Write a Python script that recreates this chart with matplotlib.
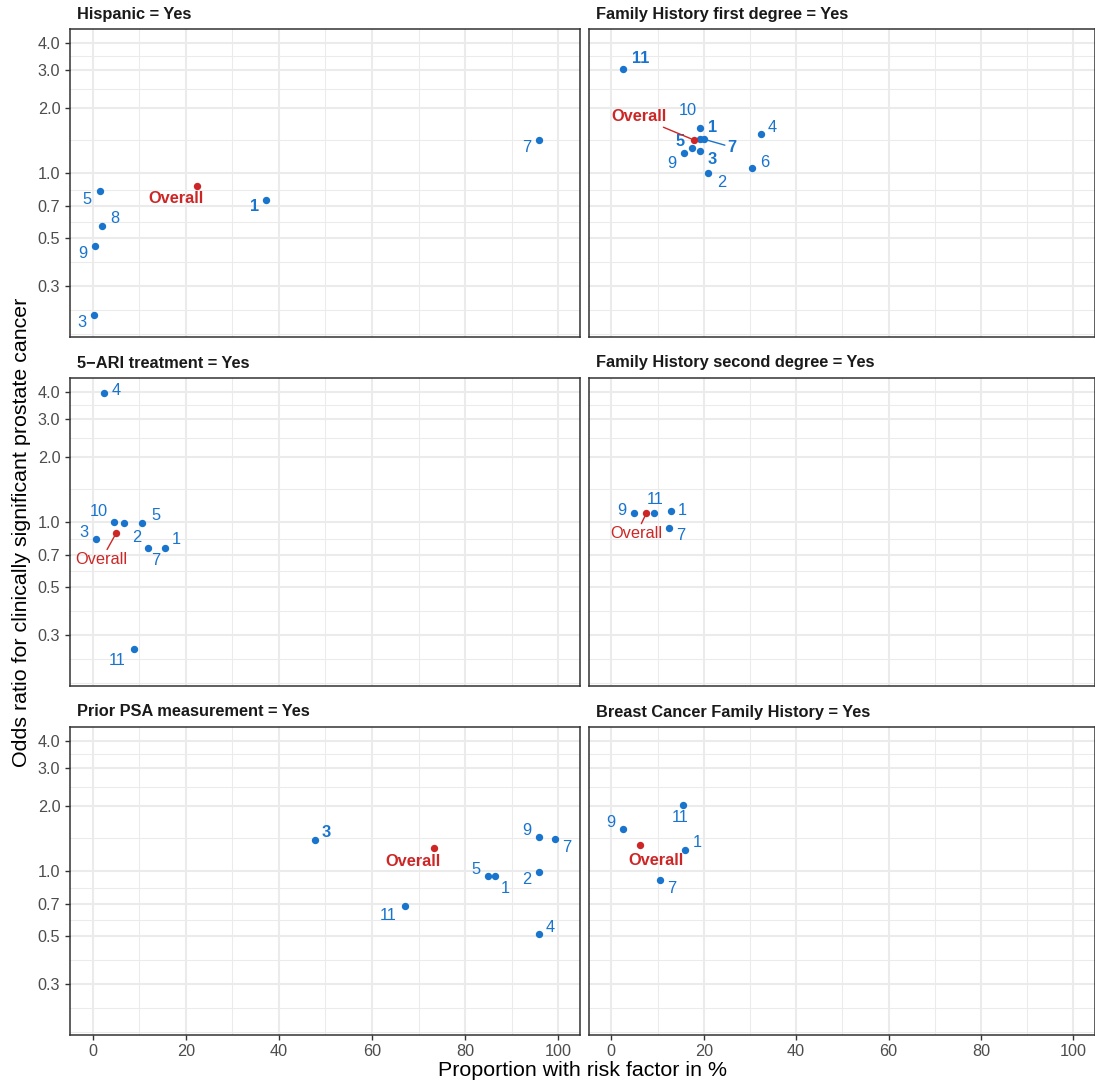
import matplotlib
matplotlib.use('Agg')
import matplotlib.pyplot as plt
from matplotlib.ticker import FixedLocator, FixedFormatter, NullFormatter
import numpy as np

plt.rcParams['font.family'] = ['Liberation Sans', 'DejaVu Sans']

BLUE = '#1874CD'
RED = '#CD2626'

# Panel titles
titles = ['Hispanic = Yes', 'Family History first degree = Yes',
          '5\u2212ARI treatment = Yes', 'Family History second degree = Yes',
          'Prior PSA measurement = Yes', 'Breast Cancer Family History = Yes']

# Cohort estimates per panel: id, proportion (%), odds ratio, bold label
hisp_ids = ['5', '1', '8', '9', '3', '7']
hisp_x = [1.5, 37.3, 2.1, 0.6, 0.3, 95.9]
hisp_or = [0.82, 0.75, 0.57, 0.46, 0.22, 1.42]
hisp_bold = [0, 1, 0, 0, 0, 0]

fh1_ids = ['11', '10', '1', '7', '5', '9', '3', '2', '6', '4']
fh1_x = [2.6, 19.2, 19.2, 20.1, 17.5, 15.8, 19.2, 21.0, 30.5, 32.3]
fh1_or = [3.03, 1.44, 1.62, 1.43, 1.30, 1.24, 1.26, 1.00, 1.05, 1.51]
fh1_bold = [1, 0, 1, 1, 1, 0, 1, 0, 0, 0]

ari_ids = ['4', '10', '2', '5', '3', '7', '1', '11']
ari_x = [2.4, 4.6, 6.8, 10.6, 0.65, 11.8, 15.5, 8.9]
ari_or = [3.94, 1.00, 0.986, 0.993, 0.83, 0.755, 0.758, 0.259]
ari_bold = [0, 0, 0, 0, 0, 0, 0, 0]

fh2_ids = ['9', '11', '1', '7']
fh2_x = [4.9, 9.2, 12.9, 12.5]
fh2_or = [1.10, 1.10, 1.12, 0.935]
fh2_bold = [0, 0, 0, 0]

psa_ids = ['3', '11', '9', '7', '2', '5', '1', '4']
psa_x = [47.7, 67.2, 95.8, 99.3, 95.8, 85.0, 86.4, 95.8]
psa_or = [1.39, 0.69, 1.43, 1.40, 0.99, 0.945, 0.945, 0.51]
psa_bold = [1, 0, 0, 0, 0, 0, 0, 0]

bc_ids = ['11', '9', '1', '7']
bc_x = [15.4, 2.6, 15.9, 10.6]
bc_or = [2.01, 1.565, 1.255, 0.905]
bc_bold = [0, 0, 0, 0]

# Overall (pooled) estimate per panel
overall_x = [22.4, 17.85, 5.1, 7.6, 73.3, 6.3]
overall_or = [0.87, 1.42, 0.89, 1.10, 1.27, 1.315]
overall_bold = [1, 1, 0, 0, 1, 1]

# label placement (pixel offsets from the point, repel-like), segment flag
hisp_nudge = [(-13, -8), (-12, -7), (12, 7), (-13, -8), (-12, -8), (-12, -8)]
fh1_nudge = [(17, 10), (-12, 28), (12, 0), (28, -8), (-12, 7), (-13, -11),
             (12, -8), (13, -10), (12, 6), (12, 7)]
ari_nudge = [(12, 3), (-15, 10), (12, -14), (14, 7), (-12, 7), (8, -12), (11, 8), (-17, -12)]
fh2_nudge = [(-12, 2), (1, 13), (11, 1), (12, -7)]
psa_nudge = [(12, 7), (-17, -10), (-12, 7), (12, -8), (-12, -8), (-12, 7), (10, -12), (12, 7)]
bc_nudge = [(-2, -12), (-13, 6), (12, 7), (11, -8)]
fh1_seg = ['7']
overall_nudge = [(-21, -13), (-55, 23), (-15, -27), (-10, -21), (-21, -13), (16, -15)]
overall_seg = [0, 1, 1, 1, 0, 0]

panels = [
    (hisp_ids, hisp_x, hisp_or, hisp_bold, hisp_nudge),
    (fh1_ids, fh1_x, fh1_or, fh1_bold, fh1_nudge),
    (ari_ids, ari_x, ari_or, ari_bold, ari_nudge),
    (fh2_ids, fh2_x, fh2_or, fh2_bold, fh2_nudge),
    (psa_ids, psa_x, psa_or, psa_bold, psa_nudge),
    (bc_ids, bc_x, bc_or, bc_bold, bc_nudge),
]

y_major = [0.3, 0.5, 0.7, 1.0, 2.0, 3.0, 4.0]
y_labels = ['0.3', '0.5', '0.7', '1.0', '2.0', '3.0', '4.0']
x_major = [0, 20, 40, 60, 80, 100]

# minor grid like ggplot: log-midpoints plus one extended step below
lb = np.log10(y_major)
step = lb[1] - lb[0]
lb_ext = np.concatenate([[lb[0] - step], lb])
y_minor = 10 ** np.concatenate([(lb_ext[:-1] + lb_ext[1:]) / 2, lb_ext])
x_minor = [10, 30, 50, 70, 90]

W, H = 1095, 1083
fig = plt.figure(figsize=(W / 100, H / 100), dpi=100, facecolor='white')

col_x = [69.8, 588.7]
col_w = [509.8, 506.0]
row_y = [29, 378, 727]
row_h = 308

for i, (ids, xs, ors, bold, nudge) in enumerate(panels):
    r, c = divmod(i, 2)
    ax = fig.add_axes([col_x[c] / W, 1 - (row_y[r] + row_h) / H, col_w[c] / W, row_h / H])
    ax.set_yscale('log')
    ax.set_xlim(-4.9, 104.6)
    ax.set_ylim(0.174, 4.63)

    ax.yaxis.set_major_locator(FixedLocator(y_major))
    ax.yaxis.set_major_formatter(FixedFormatter(y_labels))
    ax.yaxis.set_minor_locator(FixedLocator(y_minor))
    ax.yaxis.set_minor_formatter(NullFormatter())
    ax.xaxis.set_major_locator(FixedLocator(x_major))
    ax.xaxis.set_minor_locator(FixedLocator(x_minor))

    ax.grid(True, which='minor', color='#EBEBEB', lw=0.75)
    ax.grid(True, which='major', color='#EBEBEB', lw=1.45)
    ax.set_axisbelow(True)
    for s in ax.spines.values():
        s.set_color('#333333')
        s.set_linewidth(1.1)

    ax.tick_params(which='minor', length=0)
    ax.tick_params(which='major', length=3.8, width=1.0, color='#333333',
                   labelsize=11.7, labelcolor='#4D4D4D', pad=3)
    if c == 1:
        ax.tick_params(axis='y', which='major', length=0, labelleft=False)
    if r < 2:
        ax.tick_params(axis='x', which='major', length=0, labelbottom=False)

    ax.scatter(xs, ors, s=28, color=BLUE, linewidths=0, zorder=3)
    for k, lab in enumerate(ids):
        seg = (i == 1 and lab in fh1_seg)
        ax.annotate(lab, xy=(xs[k], ors[k]), xytext=nudge[k], textcoords='offset pixels',
                    ha='center', va='center', fontsize=11.8, color=BLUE,
                    fontweight='bold' if bold[k] else 'normal',
                    arrowprops=dict(arrowstyle='-', color=BLUE, lw=1.0, shrinkA=0, shrinkB=2)
                    if seg else None, zorder=4)

    ax.scatter([overall_x[i]], [overall_or[i]], s=28, color=RED, linewidths=0, zorder=5)
    ax.annotate('Overall', xy=(overall_x[i], overall_or[i]), xytext=overall_nudge[i],
                textcoords='offset pixels', ha='center', va='center', fontsize=11.8,
                color=RED, fontweight='bold' if overall_bold[i] else 'normal',
                arrowprops=dict(arrowstyle='-', color=RED, lw=1.0, shrinkA=0, shrinkB=2)
                if overall_seg[i] else None, zorder=5)

    ax.annotate(titles[i], xy=(0, 1), xycoords='axes fraction', xytext=(7, 15),
                textcoords='offset pixels', ha='left', va='center', fontsize=11.8,
                fontweight='bold', color='#1A1A1A')

fig.text(582 / W, 1 - 1070 / H, 'Proportion with risk factor in %', ha='center', va='center',
         fontsize=15.4, color='black')
fig.text(22 / W, 1 - 532 / H, 'Odds ratio for clinically significant prostate cancer',
         ha='center', va='center', rotation=90, fontsize=15.4, color='black')

fig.savefig('out.png', dpi=100, facecolor='white')
plt.close(fig)
